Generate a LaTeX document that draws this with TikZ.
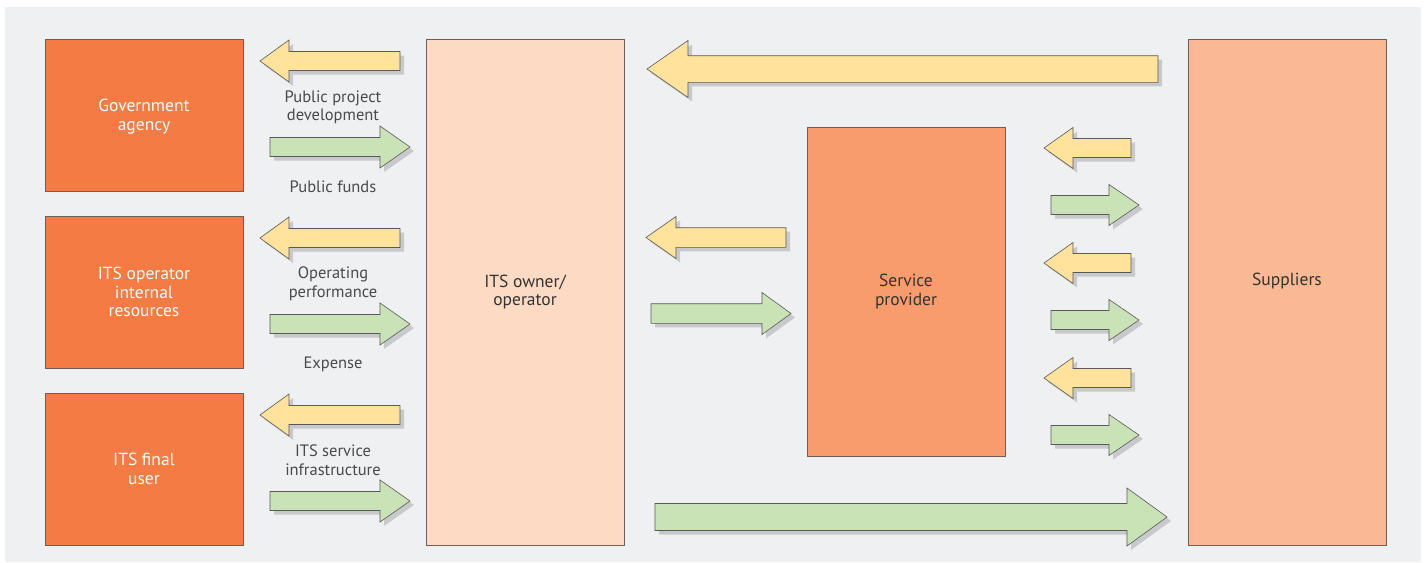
\documentclass[tikz,border=0pt]{standalone}
\usepackage{fontspec}
\setmainfont{PT Sans}
\usepackage{tikz}
\usetikzlibrary{shadows, positioning}

\definecolor{bggray}{HTML}{EFF0F2}
\definecolor{actororange}{HTML}{F47B43}
\definecolor{ownerpeach}{HTML}{FDDAC4}
\definecolor{providersalmon}{HTML}{F89B6D}
\definecolor{supplierpeach}{HTML}{FAB994}
\definecolor{flowyellow}{HTML}{FFE29B}
\definecolor{flowgreen}{HTML}{C9E3B7}
\definecolor{edgebrown}{HTML}{6E5E54}
\definecolor{shadowgray}{HTML}{C8C9CC}
\definecolor{labelgray}{HTML}{4A4A4A}

\tikzset{
    actor/.style={rectangle, draw=edgebrown, line width=0.9pt, minimum width=198pt, minimum height=152pt, align=center, text=white, fill=actororange, text depth=-1.5pt},
    bigbox/.style={rectangle, draw=edgebrown, line width=0.9pt, minimum width=198pt, align=center, text=black!80},
    flowlabel/.style={align=center, text=labelgray, font=\fontsize{16.5}{18.5}\selectfont},
    flow/.style={draw=black!65, line width=0.6pt, drop shadow={shadow xshift=4pt, shadow yshift=-4pt, fill=shadowgray, opacity=1}},
    yflow/.style={flow, fill=flowyellow},
    gflow/.style={flow, fill=flowgreen}
}

% #1 style, #2 tail x, #3 tip x, #4 y, #5 half body, #6 half head, #7 head length
\newcommand{\arrowR}[7]{\path[#1] (#2,#4-#5) -- (#3-#7,#4-#5) -- (#3-#7,#4-#6) -- (#3,#4) -- (#3-#7,#4+#6) -- (#3-#7,#4+#5) -- (#2,#4+#5) -- cycle;}
\newcommand{\arrowL}[7]{\path[#1] (#2,#4-#5) -- (#3+#7,#4-#5) -- (#3+#7,#4-#6) -- (#3,#4) -- (#3+#7,#4+#6) -- (#3+#7,#4+#5) -- (#2,#4+#5) -- cycle;}

\begin{document}
\begin{tikzpicture}[x=1pt, y=-1pt, font=\fontsize{17.5}{18.5}\selectfont]
    \fill[white] (0,0) rectangle (1426,562);
    \useasboundingbox (0,0) rectangle (1426,562);
    \fill[bggray] (5,7) rectangle (1421,562);

    % the actors on the left
    \node[actor] (gov) at (144,115) {Government\\agency};
    \node[actor] (internal) at (144,292) {ITS operator\\internal\\resources};
    \node[actor] (user) at (144,469) {ITS final\\user};

    \node[bigbox, minimum height=506pt, fill=ownerpeach] (owner) at (525,292) {ITS owner/\\operator};
    \node[bigbox, minimum height=329pt, fill=providersalmon] (provider) at (906,291.5) {Service\\provider};
    \node[bigbox, minimum height=506pt, fill=supplierpeach] (suppliers) at (1287,292) {};
    \node[text=black!80] (supname) at (1287,281.5) {Suppliers};

    % flows between actors and owner
    \foreach \row in {0,1,2} {
        \arrowL{yflow}{400}{260}{61+177*\row}{9.5}{21}{29}
        \arrowR{gflow}{270}{410}{147+177*\row}{9.5}{21}{30}
    }
    \node[flowlabel] (lbl1) at (333,107.5) {Public project\\development};
    \node[flowlabel] (lbl2) at (333,187) {Public funds};
    \node[flowlabel] (lbl3) at (333,284) {Operating\\performance};
    \node[flowlabel] (lbl4) at (333,364) {Expense};
    \node[flowlabel] (lbl5) at (333,460) {ITS service\\infrastructure};

    % owner and service provider
    \arrowL{yflow}{786}{646}{237.5}{9.8}{21}{30}
    \arrowR{gflow}{651}{791}{313.5}{9.8}{21}{29}

    % service provider and suppliers
    \foreach \row in {0,1,2} {
        \arrowL{yflow}{1131}{1044}{148+115*\row}{9.5}{20.5}{29}
        \arrowR{gflow}{1051}{1139}{205+115*\row}{9.5}{20.5}{30}
    }

    % long flows between owner and suppliers
    \arrowL{yflow}{1158}{647}{69}{13.3}{28.5}{41}
    \arrowR{gflow}{655}{1167}{517}{13.5}{29}{40}
\end{tikzpicture}
\end{document}
